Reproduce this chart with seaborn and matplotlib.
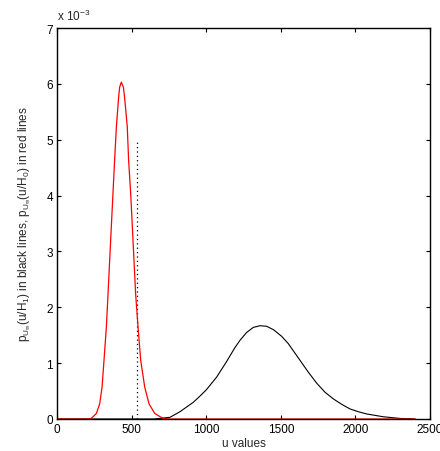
import matplotlib
matplotlib.use("Agg")
import matplotlib.pyplot as plt
import seaborn as sns
import numpy as np

# Data (p values in units of 1e-3)
red_u = [0, 75, 200, 230, 264, 286, 302, 315, 331, 342, 353, 364, 375, 386,
         398, 413, 420, 431, 445, 453, 471, 480, 494, 505, 516, 527, 543,
         561, 588, 617, 655, 710, 760, 2400]
red_p = [0, 0.0, 0.0, 0.01, 0.10, 0.27, 0.57, 1.05, 1.65, 2.24, 2.84, 3.44,
         4.03, 4.63, 5.23, 5.76, 5.94, 6.03, 5.94, 5.76, 5.23, 4.63, 4.03,
         3.44, 2.84, 2.24, 1.65, 1.05, 0.57, 0.27, 0.10, 0.01, 0, 0]

black_u = [0, 650, 757, 824, 914, 958, 1000, 1070, 1137, 1193, 1227, 1271,
           1316, 1361, 1405, 1450, 1506, 1550, 1629, 1684, 1741, 1796, 1852,
           1910, 1964, 2020, 2076, 2187, 2300, 2400]
black_p = [0, 0.0, 0.03, 0.13, 0.30, 0.41, 0.52, 0.75, 1.03, 1.28, 1.41, 1.55,
           1.64, 1.67, 1.66, 1.60, 1.48, 1.35, 1.05, 0.84, 0.64, 0.48, 0.36,
           0.26, 0.18, 0.13, 0.09, 0.04, 0.01, 0]

thresh_u = [533, 533]
thresh_p = [0, 5.0]

x_ticks = [0, 500, 1000, 1500, 2000, 2500]
y_ticks = [0, 1, 2, 3, 4, 5, 6, 7]
scale = 1e-3

sns.set_theme(style="ticks")
plt.rcParams["font.family"] = ["Liberation Sans", "DejaVu Sans"]
plt.rcParams["mathtext.fontset"] = "custom"
plt.rcParams["mathtext.rm"] = "Liberation Sans"
plt.rcParams["mathtext.it"] = "Liberation Sans"
plt.rcParams["mathtext.bf"] = "Liberation Sans"

fig = plt.figure(figsize=(4.4, 4.52), dpi=100)
ax = fig.add_axes([57/440, 32/452, (430-57)/440, (420-29)/452])

sns.lineplot(x=black_u, y=np.array(black_p) * scale, color="black", lw=0.8,
             ax=ax, estimator=None, errorbar=None, sort=False)
sns.lineplot(x=thresh_u, y=np.array(thresh_p) * scale, color="black", lw=0.9,
             ax=ax, estimator=None, errorbar=None, sort=False,
             linestyle=(0, (1, 2.5)))
sns.lineplot(x=red_u, y=np.array(red_p) * scale, color="#ff0000", lw=0.9,
             ax=ax, estimator=None, errorbar=None, sort=False)

ax.set_xlim(0, 2500)
ax.set_ylim(0, 7 * scale)
ax.set_xticks(x_ticks)
ax.set_xticklabels([str(t) for t in x_ticks])
ax.set_yticks([t * scale for t in y_ticks])
ax.set_yticklabels([str(t) for t in y_ticks])

ax.tick_params(direction="in", length=3, width=0.8, labelsize=8.5,
               top=True, right=True, pad=3, colors="black")
for s in ax.spines.values():
    s.set_linewidth(1.0)
    s.set_color("black")

ax.set_xlabel("u values", fontsize=8.5, labelpad=1)
ax.set_ylabel(r"p$_{\mathrm{U}_\infty}$(u/H$_1$) in black lines, "
              r"p$_{\mathrm{U}_\infty}$(u/H$_0$) in red lines",
              fontsize=8.5, labelpad=10)
ax.text(0.0, 1.012, r"x 10$^{-3}$", transform=ax.transAxes, fontsize=8.5,
        ha="left", va="bottom")

fig.savefig("out.png", dpi=100)
